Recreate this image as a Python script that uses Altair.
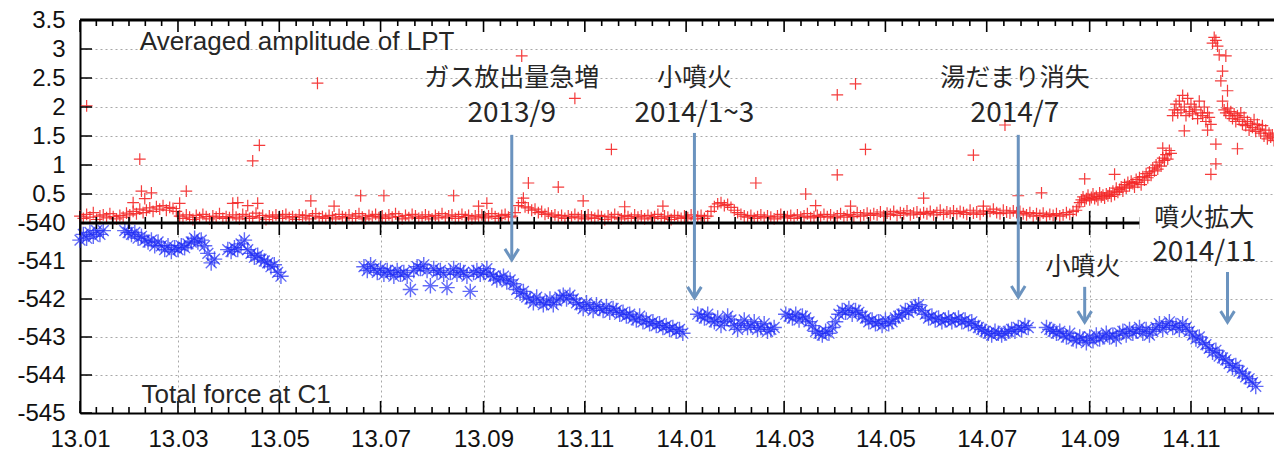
import altair as alt
import pandas as pd

START = pd.Timestamp("2013-01-01")
END_DAY = 719  # 2014-12-21


def dnum(s):
    return float((pd.Timestamp(s) - START).days)


# ---------------- axis ticks ----------------
x_tick_dates = ["2013-01-01", "2013-03-01", "2013-05-01", "2013-07-01", "2013-09-01", "2013-11-01",
                "2014-01-01", "2014-03-01", "2014-05-01", "2014-07-01", "2014-09-01", "2014-11-01"]
x_tick_labels = ["13.01", "13.03", "13.05", "13.07", "13.09", "13.11",
                 "14.01", "14.03", "14.05", "14.07", "14.09", "14.11"]
top_y_ticks = [0.5, 1, 1.5, 2, 2.5, 3, 3.5]
bot_y_ticks = [-545, -544, -543, -542, -541, -540]

# ---------------- LPT amplitude (red +) ----------------
red_base_start, red_base_step = 0, 2
red_base = [
    0.12, 0.08, 0.15, 0.1, 0.18, 0.06, 0.12, 0.14, 0.09, 0.16, 0.11, 0.07, 0.13, 0.1, 0.17,
    0.14, 0.2, 0.16, 0.24, 0.18, 0.22, 0.26, 0.2, 0.28, 0.24, 0.3, 0.22, 0.27, 0.25, 0.2,
    0.12, 0.08, 0.14, 0.1, 0.06, 0.13, 0.09, 0.15, 0.11, 0.07, 0.12, 0.1, 0.16, 0.08, 0.11,
    0.09, 0.14, 0.1, 0.07, 0.15, 0.12, 0.08, 0.11, 0.17, 0.09, 0.13, 0.06, 0.12, 0.1, 0.14,
    0.08, 0.12, 0.15, 0.09, 0.11, 0.06, 0.14, 0.1, 0.13, 0.07, 0.12, 0.16, 0.09, 0.11, 0.08,
    0.13, 0.1, 0.07, 0.15, 0.11, 0.09, 0.14, 0.08, 0.12, 0.16, 0.1, 0.07, 0.13, 0.11, 0.15,
    0.09, 0.12, 0.08, 0.14, 0.1, 0.16, 0.11, 0.07, 0.13, 0.09, 0.15, 0.12, 0.08, 0.1, 0.14,
    0.11, 0.07, 0.13, 0.1, 0.16, 0.09, 0.12, 0.14, 0.08, 0.11, 0.15, 0.1, 0.13, 0.07, 0.12,
    0.1, 0.14, 0.09, 0.12, 0.16, 0.11, 0.08, 0.13, 0.15, 0.1, 0.12, 0.18, 0.3, 0.35, 0.28,
    0.26, 0.22, 0.24, 0.18, 0.2, 0.15, 0.17, 0.12, 0.14, 0.1, 0.13, 0.08, 0.12, 0.1, 0.15,
    0.09, 0.12, 0.07, 0.14, 0.1, 0.08, 0.13, 0.11, 0.06, 0.12, 0.09, 0.15, 0.1, 0.07, 0.13,
    0.11, 0.08, 0.14, 0.1, 0.12, 0.07, 0.13, 0.09, 0.11, 0.15, 0.08, 0.12, 0.1, 0.06, 0.13,
    0.1, 0.08, 0.12, 0.09, 0.14, 0.07, 0.11, 0.13, 0.08, 0.12, 0.2, 0.28, 0.33, 0.35, 0.3,
    0.32, 0.27, 0.22, 0.18, 0.15, 0.12, 0.1, 0.13, 0.08, 0.11, 0.14, 0.09, 0.12, 0.1, 0.07,
    0.12, 0.15, 0.09, 0.11, 0.13, 0.08, 0.14, 0.1, 0.12, 0.16, 0.09, 0.11, 0.13, 0.1, 0.15,
    0.11, 0.14, 0.09, 0.12, 0.16, 0.1, 0.13, 0.15, 0.11, 0.18, 0.12, 0.14, 0.17, 0.13, 0.16,
    0.14, 0.19, 0.12, 0.17, 0.15, 0.2, 0.13, 0.18, 0.16, 0.21, 0.14, 0.17, 0.19, 0.15, 0.18,
    0.16, 0.2, 0.14, 0.18, 0.22, 0.15, 0.19, 0.17, 0.21, 0.16, 0.2, 0.18, 0.15, 0.22, 0.17,
    0.19, 0.15, 0.21, 0.17, 0.2, 0.24, 0.18, 0.16, 0.22, 0.19, 0.17, 0.21, 0.18, 0.2, 0.16,
    0.14, 0.18, 0.12, 0.16, 0.13, 0.17, 0.11, 0.15, 0.13, 0.16, 0.12, 0.14, 0.18, 0.15, 0.2,
]
red_late_start, red_late_step = 600, 1
red_late = [
    0.22, 0.28, 0.35, 0.4, 0.45, 0.38, 0.42, 0.48, 0.4, 0.44,
    0.5, 0.42, 0.46, 0.4, 0.52, 0.45, 0.48, 0.43, 0.5, 0.47,
    0.52, 0.46, 0.55, 0.49, 0.6, 0.53, 0.58, 0.62, 0.55, 0.66,
    0.6, 0.7, 0.64, 0.72, 0.68, 0.62, 0.75, 0.7, 0.78, 0.66,
    0.8, 0.74, 0.85, 0.78, 0.88, 0.82, 0.95, 0.9, 1.0, 0.93,
    1.05, 0.98, 1.12, 1.08, 1.18, 1.1, 1.25, 1.2, 1.85, 1.95,
    2.05, 1.9, 2.1, 1.95, 2.2, 2.0, 1.85, 2.15, 1.92, 2.05,
    1.88, 2.0, 1.95, 1.8, 2.1, 1.9, 1.85, 2.0, 1.75, 1.9,
    1.82, 1.7, 3.1, 3.2, 3.15, 3.05, 2.9, 2.45, 2.1, 1.95,
    1.9, 1.98, 1.85, 1.92, 1.8, 1.88, 1.75, 1.85, 1.78, 1.9,
    1.7, 1.82, 1.68, 1.75, 1.6, 1.72, 1.65, 1.78, 1.58, 1.7,
    1.62, 1.55, 1.68, 1.5, 1.6, 1.45, 1.55, 1.48, 1.52, 1.42,
]
red_out_days = [4, 36, 37, 43, 39, 32, 64, 60, 92, 95, 104, 108, 107, 101, 143, 139, 153, 169, 183,
                225, 240, 245, 266, 298, 270, 267, 288, 303, 320, 328, 351, 407, 437, 443, 456, 467,
                473, 456, 464, 508, 538, 557, 544, 565, 579, 605, 623, 652, 665, 681, 684, 684, 688,
                690, 691, 697, 679]
red_out_vals = [2.02, 1.10, 0.55, 0.52, 0.42, 0.35, 0.55, 0.34, 0.34, 0.35, 1.07, 1.34, 0.34, 0.3,
                2.41, 0.38, 0.29, 0.47, 0.47, 0.47, 0.29, 0.34, 2.88, 2.15, 0.69, 0.43, 0.62, 0.38,
                1.27, 0.28, 0.29, 0.69, 0.5, 0.3, 2.21, 2.4, 1.27, 0.83, 0.29, 0.43, 1.17, 1.69,
                0.29, 0.47, 0.52, 0.76, 0.84, 1.29, 1.59, 0.84, 1.36, 1.02, 2.62, 2.88, 2.28, 1.28,
                1.6]

# ---------------- Total force at C1 (blue *) ----------------
blue_step = 2
blue_segments = [
    (0, [-540.45, -540.3, -540.4, -540.25, -540.35, -540.2, -540.3, -540.2]),
    (27, [-540.2, -540.25, -540.3, -540.25, -540.4, -540.35, -540.45, -540.5, -540.45, -540.6,
          -540.5, -540.6, -540.7, -540.6, -540.75, -540.65, -540.7, -540.6, -540.65, -540.55,
          -540.5, -540.4, -540.5, -540.45, -540.6, -540.8, -541.05, -540.95]),
    (89, [-540.7, -540.75, -540.65, -540.7, -540.55, -540.45, -540.7, -540.8, -540.9, -540.85,
          -540.95, -541.0, -541.05, -541.15, -541.1, -541.3, -541.4]),
    (171, [-541.15, -541.25, -541.1, -541.2, -541.3, -541.2, -541.35, -541.25, -541.3, -541.4,
           -541.25, -541.35, -541.3, -541.4, -541.75, -541.25, -541.15, -541.2, -541.1, -541.25,
           -541.65, -541.2, -541.3, -541.25, -541.35, -541.7, -541.3, -541.2, -541.35, -541.25,
           -541.3, -541.4, -541.8, -541.3, -541.25, -541.35, -541.3, -541.2, -541.35, -541.4,
           -541.5, -541.45, -541.4, -541.55, -541.5, -541.6, -541.75, -541.85, -541.8, -541.95,
           -542.0, -542.1, -541.95, -542.05, -542.15, -542.1, -542.0, -542.15, -542.05, -541.95,
           -541.9, -542.0, -541.9, -542.0, -542.1, -542.15, -542.25, -542.1, -542.2, -542.3,
           -542.15, -542.25, -542.3, -542.2, -542.35, -542.25, -542.3, -542.4, -542.35, -542.45,
           -542.4, -542.5, -542.55, -542.45, -542.6, -542.55, -542.65, -542.6, -542.7, -542.65,
           -542.75, -542.7, -542.8, -542.75, -542.85, -542.8, -542.9]),
    (372, [-542.4, -542.45, -542.5, -542.4, -542.55, -542.6, -542.5, -542.7, -542.6, -542.45,
           -542.55, -542.7, -542.8, -542.65, -542.55, -542.75, -542.7, -542.6, -542.8, -542.75,
           -542.65, -542.85, -542.8, -542.75]),
    (425, [-542.4, -542.45, -542.5, -542.4, -542.55, -542.45, -542.5, -542.6, -542.7, -542.85,
           -542.9, -542.95, -542.85, -542.9, -542.75, -542.6, -542.4, -542.3, -542.35, -542.25,
           -542.4, -542.3, -542.35, -542.45, -542.5, -542.6, -542.55, -542.65, -542.6, -542.7,
           -542.55, -542.65, -542.6, -542.5, -542.45, -542.4, -542.3, -542.35, -542.25, -542.2,
           -542.15, -542.3, -542.4, -542.5, -542.45, -542.55, -542.5, -542.6, -542.55, -542.5,
           -542.6, -542.55, -542.5, -542.6, -542.55, -542.65, -542.6, -542.7, -542.75, -542.8,
           -542.85, -542.9, -542.95, -542.85, -542.9, -542.95, -542.9, -542.85, -542.8, -542.85,
           -542.75, -542.8, -542.7, -542.75]),
    (582, [-542.75, -542.8, -542.85, -542.9, -542.85, -542.95, -543.0, -542.9, -543.05, -543.1,
           -543.0, -543.05, -543.15, -543.0, -543.1, -542.95, -543.05, -543.0, -542.9, -543.0,
           -542.95, -543.05, -542.9, -542.85, -542.95, -542.8, -542.9, -542.85, -542.75, -542.9,
           -542.8, -542.95, -542.85, -542.75, -542.65, -542.8, -542.7, -542.6, -542.75, -542.7,
           -542.8, -542.65, -542.75, -542.85, -542.95, -543.05, -543.0, -543.15, -543.2, -543.3,
           -543.4, -543.35, -543.5, -543.55, -543.6, -543.7, -543.8, -543.75, -543.9, -543.95,
           -544.05, -544.1, -544.2, -544.3]),
]

# ---------------- annotations ----------------
arrow_dates = ["2013-09-18", "2014-01-06", "2014-07-20", "2014-11-23", "2014-08-29"]
arrow_from = [-537.68, -537.63, -537.68, -541.29, -541.68]
arrow_to = [-540.97, -541.97, -541.95, -542.61, -542.61]

kana_top_dates = ["2013-09-18", "2014-01-06", "2014-07-18"]
kana_top_text = ["ガス放出量急増", "小噴火", "湯だまり消失"]
kana_top_y = [2.5, 2.5, 2.5]
date_top_text = ["2013/9", "2014/1~3", "2014/7"]
date_top_y = [1.88, 1.88, 1.88]

kana_bot_dates = ["2014-11-09", "2014-08-28"]
kana_bot_text = ["噴火拡大", "小噴火"]
kana_bot_y = [-539.88, -541.16]
date_bot_dates = ["2014-11-09"]
date_bot_text = ["2014/11"]
date_bot_y = [-540.8]

panel_titles_top = (["2013-02-06"], ["Averaged amplitude of LPT"], [3.12])
panel_titles_bot = (["2013-02-07"], ["Total force at C1"], [-544.53])

box_x = ["2014-10-01", "2014-12-21"]
box_y = [-539.45, -540.92]

# ---------------- build tables ----------------
rows = []
for i, v in enumerate(red_base):
    rows.append({"d": red_base_start + red_base_step * i, "v": v})
for i, v in enumerate(red_late):
    rows.append({"d": red_late_start + red_late_step * i, "v": v})
for d, v in zip(red_out_days, red_out_vals):
    rows.append({"d": d, "v": v})
red_df = pd.DataFrame(rows)

rows = []
for s, vals in blue_segments:
    for i, v in enumerate(vals):
        rows.append({"d": s + blue_step * i, "v": v})
blue_df = pd.DataFrame(rows)

major_days = [dnum(t) for t in pd.date_range("2013-01-01", "2015-01-01", freq="2MS")]
minor_days = []
for a, b in zip(major_days[:-1], major_days[1:]):
    for k in range(1, 6):
        t = a + (b - a) * k / 6
        if t <= END_DAY:
            minor_days.append(t)
major_df = pd.DataFrame({"d": [t for t in major_days if t <= END_DAY]})
minor_df = pd.DataFrame({"d": minor_days})

# ---------------- styling ----------------
W, H = 1194, 393
DIV = 203
FONT = "Liberation Sans"
JP = "Noto Sans CJK JP"
TXT = "#262626"
ARROW = "#6b93bf"
GRID = "#a8a8a8"

x_vals = [dnum(d) for d in x_tick_dates]
x_label_expr = ("[" + ",".join(f"'{s}'" for s in x_tick_labels) + "][indexof(["
                + ",".join(str(int(v)) for v in x_vals) + "], datum.value)]")

x_scale = alt.Scale(domain=[0, END_DAY], nice=False, zero=False)
top_scale = alt.Scale(domain=[0, 3.5], range=[DIV, 0], nice=False, zero=False)
bot_scale = alt.Scale(domain=[-545, -540], range=[H, DIV], nice=False, zero=False)

common_axis = dict(labelFont=FONT, labelFontSize=24, labelColor="#111111", ticks=False, tickSize=0,
                   domain=True, domainColor="black", domainWidth=2, grid=True, gridColor=GRID,
                   gridDash=[2, 3], gridWidth=1, title=None, labelOverlap=False)

x_axis = alt.Axis(values=x_vals, labelExpr=x_label_expr, labelFlush=False, labelPadding=14,
                  orient="bottom", **common_axis)
top_axis = alt.Axis(values=top_y_ticks, orient="left", labelPadding=15,
                    labelExpr="'' + datum.value", **common_axis)
bot_axis = alt.Axis(values=bot_y_ticks, orient="left", labelPadding=15,
                    labelExpr="'' + datum.value", **common_axis)


def X(field="d"):
    return alt.X(f"{field}:Q", scale=x_scale, axis=x_axis)


plus_path = "M-1,0L1,0M0,-1L0,1"
star_path = "M-1,0L1,0M0,-1L0,1M-0.7,-0.7L0.7,0.7M-0.7,0.7L0.7,-0.7"
chevron = "M-1,-1.6L0,0L1,-1.6"

red = alt.Chart(red_df).mark_point(shape=plus_path, size=140, filled=False, color="#f42626",
                                   strokeWidth=1.2, opacity=0.9).encode(
    x=X(), y=alt.Y("v:Q", scale=top_scale, axis=top_axis))

blue = alt.Chart(blue_df).mark_point(shape=star_path, size=240, filled=False, color="#1f2cf5",
                                     strokeWidth=1.4).encode(
    x=X(), y=alt.Y("v:Q", scale=bot_scale, axis=bot_axis))

ytick_top = alt.Chart(pd.DataFrame({"v": top_y_ticks})).mark_rule(color="black", strokeWidth=1.5).encode(
    y=alt.Y("v:Q", scale=top_scale, axis=None), x=alt.value(0), x2=alt.value(12))
ytick_bot = alt.Chart(pd.DataFrame({"v": bot_y_ticks})).mark_rule(color="black", strokeWidth=1.5).encode(
    y=alt.Y("v:Q", scale=bot_scale, axis=None), x=alt.value(0), x2=alt.value(12))

# inward x ticks: (bottom frame, top frame, divider)
xt_layers = []
for df, size in ((major_df, 12), (minor_df, 6)):
    for y0, y1 in ((H, H - size), (0, size), (DIV - size, DIV + size)):
        xt_layers.append(alt.Chart(df).mark_rule(color="black", strokeWidth=1.6).encode(
            x=X(), y=alt.value(y0), y2=alt.value(y1)))

frame_df = pd.DataFrame({"x0": [0.0], "x1": [float(END_DAY)]})
frame_top = alt.Chart(frame_df).mark_rect(color="black").encode(
    x=X("x0"), x2="x1:Q", y=alt.value(-1.5), y2=alt.value(1.5))
divider = alt.Chart(pd.DataFrame({"v": [0.0]})).mark_rule(color="black", strokeWidth=3).encode(
    y=alt.Y("v:Q", scale=top_scale, axis=None))

box = alt.Chart(pd.DataFrame({"x0": [dnum(box_x[0])], "x1": [dnum(box_x[1])],
                              "y0": [box_y[0]], "y1": [box_y[1]]})).mark_rect(color="white").encode(
    x=X("x0"), x2="x1:Q", y=alt.Y("y0:Q", scale=bot_scale, axis=None), y2="y1:Q")


def text_layer(dates, texts, ys, scale, font, size, align="center"):
    df = pd.DataFrame({"d": [dnum(d) for d in dates], "label": texts, "v": ys})
    return alt.Chart(df).mark_text(align=align, baseline="middle", font=font, fontSize=size,
                                   color=TXT).encode(
        x=X(), y=alt.Y("v:Q", scale=scale, axis=None), text="label:N")


texts = [
    text_layer(*panel_titles_top, top_scale, FONT, 26, align="left"),
    text_layer(*panel_titles_bot, bot_scale, FONT, 26, align="left"),
    text_layer(kana_top_dates, kana_top_text, kana_top_y, top_scale, JP, 25),
    text_layer(kana_top_dates, date_top_text, date_top_y, top_scale, JP, 28),
    text_layer(kana_bot_dates, kana_bot_text, kana_bot_y, bot_scale, JP, 25),
    text_layer(date_bot_dates, date_bot_text, date_bot_y, bot_scale, JP, 28),
]

arrow_df = pd.DataFrame({"d": [dnum(d) for d in arrow_dates], "y0": arrow_from, "y1": arrow_to})
arrow_lines = alt.Chart(arrow_df).mark_rule(color=ARROW, strokeWidth=3).encode(
    x=X(), y=alt.Y("y0:Q", scale=bot_scale, axis=None), y2="y1:Q")
arrow_heads = alt.Chart(arrow_df).mark_point(shape=chevron, size=190, filled=False, color=ARROW,
                                             strokeWidth=3, opacity=1).encode(
    x=X(), y=alt.Y("y1:Q", scale=bot_scale, axis=None))

chart = alt.layer(
    red, blue, ytick_top, ytick_bot, *xt_layers, frame_top, divider, box, *texts,
    arrow_lines, arrow_heads,
).resolve_scale(y="independent").properties(
    width=W, height=H,
    autosize=alt.AutoSizeParams(type="none"),
    padding={"left": 80, "top": 20, "right": 0, "bottom": 46},
).configure_view(stroke=None).configure(background="white")

chart.save("out.html", embed_options={"renderer": "svg", "actions": False})
